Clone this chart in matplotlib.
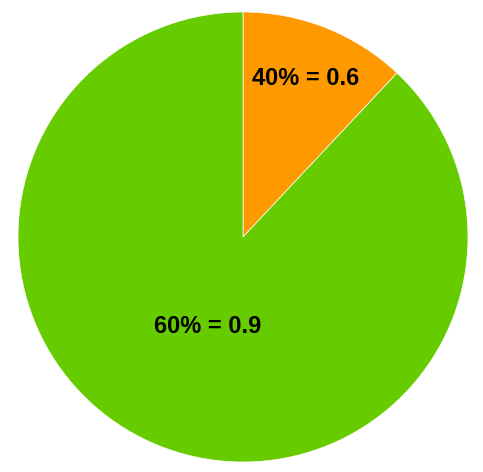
import numpy as np
import matplotlib
matplotlib.use('Agg')
import matplotlib.pyplot as plt

# slice sizes as drawn, label texts as printed
sizes = [0.12, 0.88]
labels = ['40% = 0.6', '60% = 0.9']
colors = ['#FF9900', '#66CC00']
label_dist = [0.76, 0.43]

fig = plt.figure(figsize=(4.83, 4.72), dpi=100)
ax = fig.add_axes([18 / 483, 10 / 472, 450 / 483, 450 / 472])
wedges, _ = ax.pie(sizes, colors=colors, startangle=90, counterclock=False,
                   wedgeprops=dict(linewidth=0.5, edgecolor='white'))
for w, txt, d in zip(wedges, labels, label_dist):
    mid = np.deg2rad((w.theta1 + w.theta2) / 2)
    ax.text(d * np.cos(mid), d * np.sin(mid), txt, ha='center', va='center',
            fontsize=17, fontweight='bold', family='Liberation Sans', color='black')
ax.set_xlim(-1, 1)
ax.set_ylim(-1, 1)
fig.savefig('out.png', dpi=100)
